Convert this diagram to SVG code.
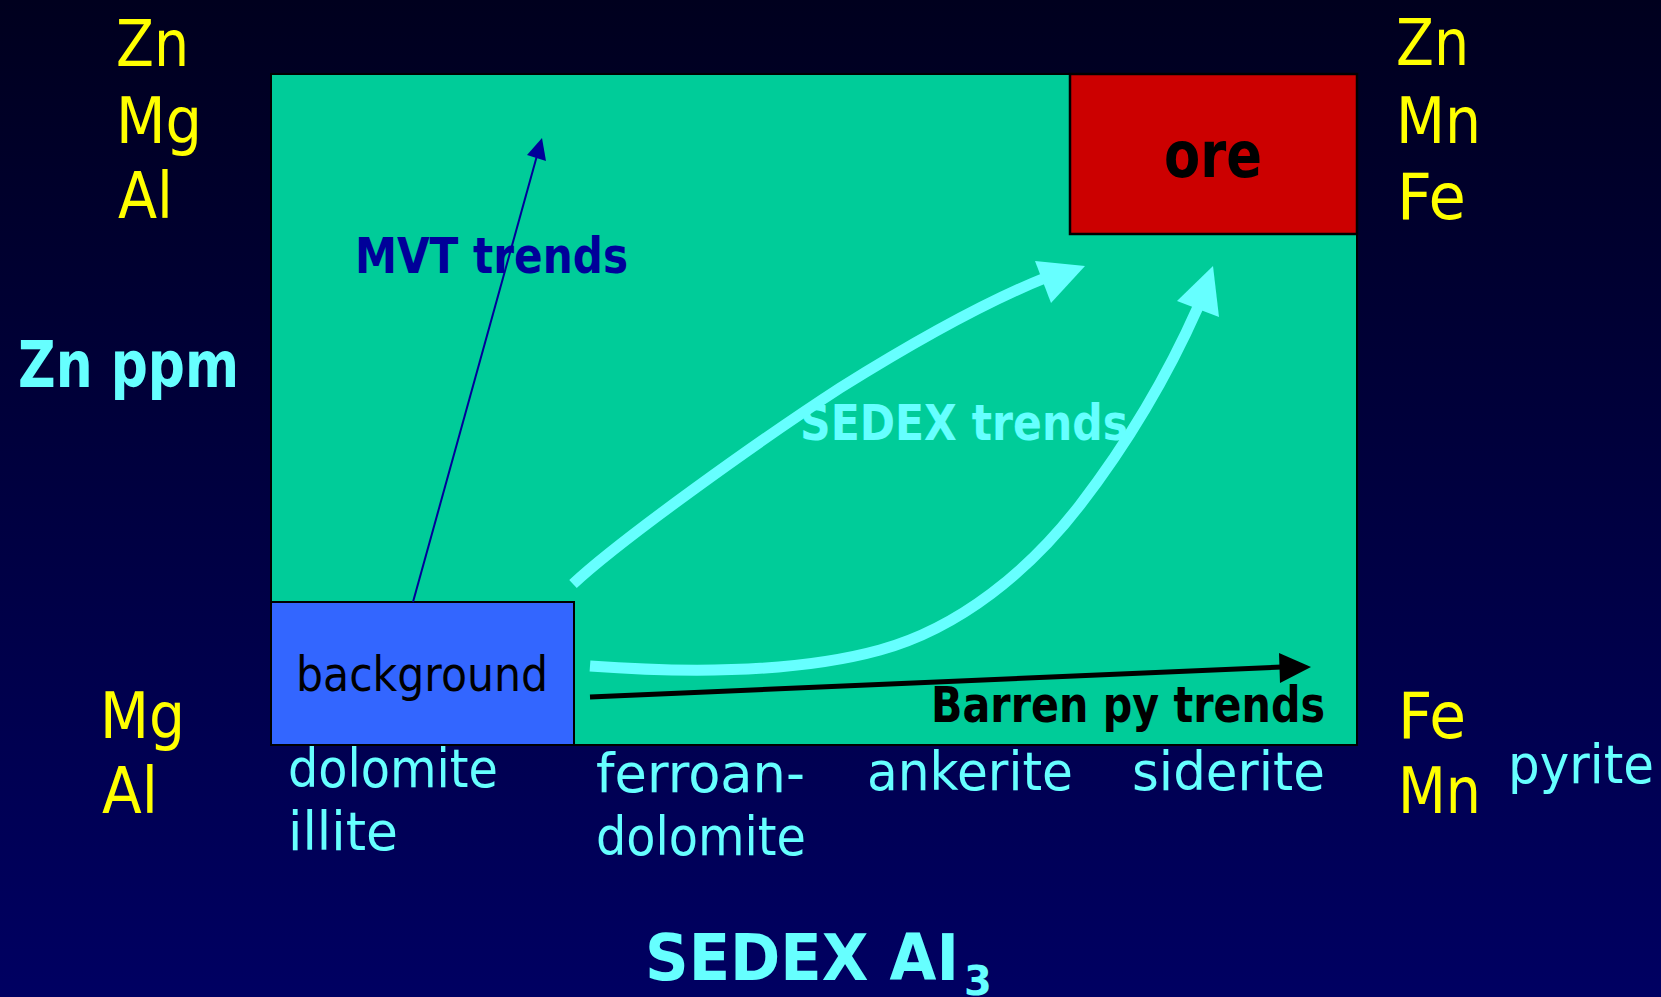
<svg xmlns="http://www.w3.org/2000/svg" width="1661" height="997" viewBox="0 0 1661 997">
<defs>
<linearGradient id="bg" x1="0" y1="0" x2="0" y2="1">
<stop offset="0" stop-color="#00001E"/>
<stop offset="1" stop-color="#000062"/>
</linearGradient>
</defs>
<style>
text{font-family:"DejaVu Sans","Liberation Sans",sans-serif;}
.y{fill:#FFFF00;font-size:64px;}
.c{fill:#66FFFF;font-size:54px;}
.cb{fill:#66FFFF;font-weight:bold;}
.k{fill:#000000;}
.b{font-weight:bold;}
.cy{fill:none;stroke:#66FFFF;stroke-width:11;}
</style>
<rect x="0" y="0" width="1661" height="997" fill="url(#bg)"/>
<g id="chart">
<rect x="271" y="74" width="1086" height="671" fill="#00CC99" stroke="#000" stroke-width="2"/>
</g>
<g id="ore">
<rect x="1070" y="74" width="287" height="160" fill="#CC0000" stroke="#000" stroke-width="2.5"/>
<text class="k b" x="1164" y="177" font-size="64" textLength="98" lengthAdjust="spacingAndGlyphs">ore</text>
</g>
<g id="background">
<rect x="271" y="602" width="303" height="143" fill="#3366FF" stroke="#000" stroke-width="2"/>
<text class="k" x="296" y="691" font-size="48" textLength="252" lengthAdjust="spacingAndGlyphs">background</text>
</g>
<g id="connectors">
<line x1="413" y1="602" x2="538" y2="152" stroke="#000099" stroke-width="2"/>
<polygon points="542,138 527,155 546,161" fill="#000099"/>
<path class="cy" d="M573,584 C620,540 760,440 840,388 C920,338 990,300 1045,278"/>
<polygon points="1085,266 1035,261 1051,303" fill="#66FFFF"/>
<path class="cy" d="M590,666 C700,674 800,672 880,650 C960,628 1030,570 1080,505 C1130,440 1170,370 1198,307"/>
<polygon points="1213,266 1177,301 1219,317" fill="#66FFFF"/>
<line x1="590" y1="697" x2="1282" y2="667" stroke="#000" stroke-width="5"/>
<polygon points="1311,667 1279,653 1280,683" fill="#000"/>
</g>
<g id="labels">
<text class="y" x="116" y="66" textLength="73" lengthAdjust="spacingAndGlyphs">Zn</text>
<text class="y" x="116" y="143" textLength="86" lengthAdjust="spacingAndGlyphs">Mg</text>
<text class="y" x="118" y="218" textLength="55" lengthAdjust="spacingAndGlyphs">Al</text>
<text class="cb" x="18" y="387" font-size="64" textLength="221" lengthAdjust="spacingAndGlyphs">Zn ppm</text>
<text class="y" x="1396" y="65" textLength="73" lengthAdjust="spacingAndGlyphs">Zn</text>
<text class="y" x="1396" y="143" textLength="85" lengthAdjust="spacingAndGlyphs">Mn</text>
<text class="y" x="1397" y="219" textLength="69" lengthAdjust="spacingAndGlyphs">Fe</text>
<text class="b" x="355" y="273" font-size="49" fill="#000099" textLength="273" lengthAdjust="spacingAndGlyphs">MVT trends</text>
<text class="cb" x="800" y="440" font-size="50" textLength="328" lengthAdjust="spacingAndGlyphs">SEDEX trends</text>
<text class="k b" x="931" y="722" font-size="50" textLength="394" lengthAdjust="spacingAndGlyphs">Barren py trends</text>
<text class="y" x="100" y="738" textLength="85" lengthAdjust="spacingAndGlyphs">Mg</text>
<text class="y" x="102" y="813" textLength="56" lengthAdjust="spacingAndGlyphs">Al</text>
<text class="c" x="288" y="787" textLength="210" lengthAdjust="spacingAndGlyphs">dolomite</text>
<text class="c" x="288" y="850" textLength="110" lengthAdjust="spacingAndGlyphs">illite</text>
<text class="c" x="596" y="792" textLength="209" lengthAdjust="spacingAndGlyphs">ferroan-</text>
<text class="c" x="596" y="855" textLength="210" lengthAdjust="spacingAndGlyphs">dolomite</text>
<text class="c" x="867" y="790" textLength="206" lengthAdjust="spacingAndGlyphs">ankerite</text>
<text class="c" x="1132" y="790" textLength="193" lengthAdjust="spacingAndGlyphs">siderite</text>
<text class="y" x="1398" y="738" textLength="68" lengthAdjust="spacingAndGlyphs">Fe</text>
<text class="y" x="1398" y="813" textLength="83" lengthAdjust="spacingAndGlyphs">Mn</text>
<text class="c" x="1508" y="783" textLength="146" lengthAdjust="spacingAndGlyphs">pyrite</text>
<text class="cb" font-size="64"><tspan x="645" y="980" textLength="314" lengthAdjust="spacingAndGlyphs">SEDEX AI</tspan><tspan x="964" y="995" font-size="40">3</tspan></text>
</g>
</svg>
